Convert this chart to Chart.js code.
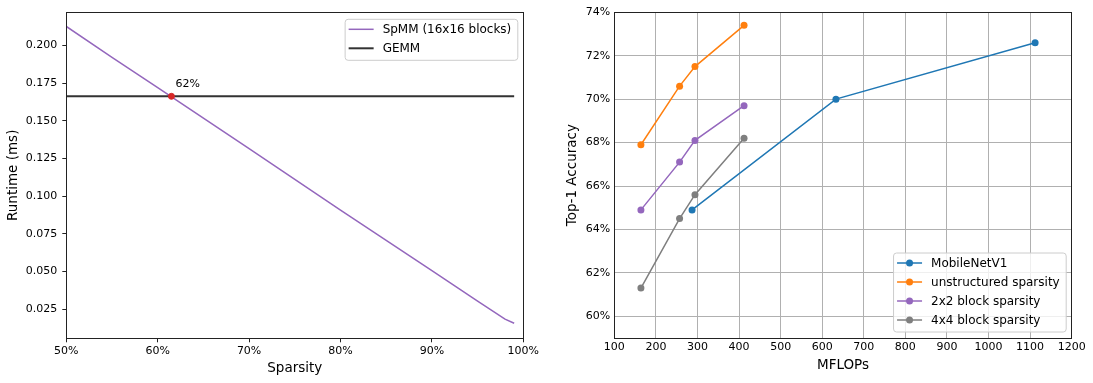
<!DOCTYPE html>
<html>
<head>
<meta charset="utf-8">
<script src="https://cdn.jsdelivr.net/npm/chart.js@4.4.0/dist/chart.umd.min.js"></script>
<style>
  body { margin: 0; background: #fff; }
  #wrap { position: relative; width: 1093px; height: 383px; }
  #wrap canvas { position: absolute; top: 0; }
</style>
</head>
<body>
<div id="wrap">
  <canvas id="runtimeChart" width="546" height="383" style="left:0"></canvas>
  <canvas id="accuracyChart" width="547" height="383" style="left:546px"></canvas>
</div>
<script>
// left panel: runtime vs sparsity
const sparsity = [50, 55, 60, 65, 70, 75, 80, 85, 90, 95, 98, 99]
const spmmRuntime = [0.2125, 0.1920, 0.1720, 0.1518, 0.1316, 0.1112, 0.0907, 0.0707, 0.0507, 0.0305, 0.0185, 0.0158]
const gemmSpan = [50, 99]
const gemmRuntime = 0.1662
const crossoverSparsity = 61.5
const crossoverLabel = '62%'
const runtimeTicks = [0.025, 0.050, 0.075, 0.100, 0.125, 0.150, 0.175, 0.200]

// right panel: accuracy vs MFLOPs
const mobilenetMflops = [287, 633, 1112]
const mobilenetAcc = [64.9, 70.0, 72.6]
const sparseMflops = [164, 257, 294, 412]
const unstructuredAcc = [67.9, 70.6, 71.5, 73.4]
const block2x2Acc = [64.9, 67.1, 68.1, 69.7]
const block4x4Acc = [61.3, 64.5, 65.6, 68.2]
const accuracyTicks = [60, 62, 64, 66, 68, 70, 72, 74]

Chart.defaults.font.family = '"DejaVu Sans", sans-serif'
Chart.defaults.color = '#000'

const toPoints = (xs, ys) => xs.map((x, i) => ({x: x, y: ys[i]}))

// box around the plot area, like matplotlib spines
const framePlugin = {
  id: 'frame',
  afterDatasetsDraw(chart) {
    const {ctx, chartArea: a} = chart
    ctx.save()
    ctx.strokeStyle = '#222'
    ctx.lineWidth = 1
    ctx.strokeRect(Math.round(a.left) + 0.5, Math.round(a.top) + 0.5, Math.round(a.right - a.left), Math.round(a.bottom - a.top))
    ctx.restore()
  }
}

// legend drawn inside the plot area with a rounded box
const boxLegend = {
  id: 'boxLegend',
  afterDraw(chart, args, opts) {
    const {ctx, chartArea: a} = chart
    const items = chart.data.datasets.filter(d => d.inLegend !== false)
    ctx.save()
    ctx.font = '12px "DejaVu Sans"'
    const textW = Math.max(...items.map(d => ctx.measureText(d.label).width))
    const w = 38 + textW + 6
    const h = items.length * 19 + 3
    const x = a.right - 6 - w
    const y = opts.corner === 'top' ? a.top + 6.5 : a.bottom - 6.5 - h
    ctx.beginPath()
    ctx.roundRect(x + 0.5, y + 0.5, w, h, 3)
    ctx.fillStyle = 'rgba(255,255,255,0.8)'
    ctx.fill()
    ctx.strokeStyle = '#cccccc'
    ctx.lineWidth = 1
    ctx.stroke()
    items.forEach((d, i) => {
      const cy = y + 10.5 + i * 19
      ctx.beginPath()
      ctx.moveTo(x + 4, cy)
      ctx.lineTo(x + 29, cy)
      ctx.strokeStyle = d.borderColor
      ctx.lineWidth = d.borderWidth
      ctx.stroke()
      if (d.pointRadius > 0) {
        ctx.beginPath()
        ctx.arc(x + 16.5, cy, d.pointRadius, 0, Math.PI * 2)
        ctx.fillStyle = d.borderColor
        ctx.fill()
      }
      ctx.fillStyle = '#000'
      ctx.textBaseline = 'middle'
      ctx.fillText(d.label, x + 38, cy + 1)
    })
    ctx.restore()
  }
}

// "62%" next to the red crossover dot
const crossoverText = {
  id: 'crossoverText',
  afterDatasetsDraw(chart) {
    const idx = chart.data.datasets.findIndex(d => d.crossover)
    const pt = chart.getDatasetMeta(idx).data[0]
    const ctx = chart.ctx
    ctx.save()
    ctx.font = '11px "DejaVu Sans"'
    ctx.fillStyle = '#000'
    ctx.textBaseline = 'middle'
    ctx.fillText(crossoverLabel, pt.x + 4, pt.y - 12)
    ctx.restore()
  }
}

new Chart(document.getElementById('runtimeChart'), {
  type: 'line',
  data: {
    datasets: [
      {
        label: 'SpMM (16x16 blocks)',
        data: toPoints(sparsity, spmmRuntime),
        borderColor: '#9467bd', borderWidth: 1.5, pointRadius: 0, order: 3
      },
      {
        label: 'GEMM',
        data: gemmSpan.map(s => ({x: s, y: gemmRuntime})),
        borderColor: '#333333', borderWidth: 2, pointRadius: 0, order: 2
      },
      {
        label: 'crossover', type: 'scatter', crossover: true, inLegend: false,
        data: [{x: crossoverSparsity, y: gemmRuntime}],
        pointRadius: 3, backgroundColor: '#d62728', borderColor: '#d62728', order: 1
      }
    ]
  },
  options: {
    responsive: false,
    animation: false,
    layout: { padding: { top: 12.3, right: 22.7, left: 0, bottom: 0 } },
    plugins: {
      legend: { display: false },
      tooltip: { enabled: false },
      boxLegend: { corner: 'top' }
    },
    scales: {
      x: {
        type: 'linear', min: 50, max: 100,
        afterFit: s => { s.height = 44.7 },
        ticks: { stepSize: 10, callback: v => v + '%', padding: 2, maxRotation: 0, autoSkip: false, font: { size: 11 } },
        grid: { drawOnChartArea: false, tickLength: 4, color: '#222' },
        border: { display: false },
        title: { display: true, text: 'Sparsity', font: { size: 13.5 }, padding: { top: 0, bottom: 6.5 } }
      },
      y: {
        min: 0.0058, max: 0.2219,
        afterBuildTicks: ax => { ax.ticks = runtimeTicks.map(v => ({value: v})) },
        afterFit: s => { s.width = 66.3 },
        ticks: { callback: v => v.toFixed(3), padding: 5, font: { size: 11 } },
        grid: { drawOnChartArea: false, tickLength: 4, color: '#222' },
        border: { display: false },
        title: { display: true, text: 'Runtime (ms)', font: { size: 13.5 }, padding: { top: 5, bottom: 0 } }
      }
    }
  },
  plugins: [framePlugin, crossoverText, boxLegend]
})

const accSeries = [
  ['MobileNetV1', mobilenetMflops, mobilenetAcc, '#1f77b4'],
  ['unstructured sparsity', sparseMflops, unstructuredAcc, '#ff7f0e'],
  ['2x2 block sparsity', sparseMflops, block2x2Acc, '#9467bd'],
  ['4x4 block sparsity', sparseMflops, block4x4Acc, '#7f7f7f']
]

new Chart(document.getElementById('accuracyChart'), {
  type: 'line',
  data: {
    datasets: accSeries.map(([label, xs, ys, color], i) => ({
      label: label,
      data: toPoints(xs, ys),
      borderColor: color,
      backgroundColor: color,
      pointBackgroundColor: color,
      pointBorderWidth: 0,
      borderWidth: 1.5,
      pointRadius: 3.5,
      order: accSeries.length - i
    }))
  },
  options: {
    responsive: false,
    animation: false,
    layout: { padding: { top: 12.3, right: 21.3, left: 0, bottom: 0 } },
    plugins: {
      legend: { display: false },
      tooltip: { enabled: false },
      boxLegend: { corner: 'bottom' }
    },
    scales: {
      x: {
        type: 'linear', min: 100, max: 1200,
        afterFit: s => { s.height = 45 },
        ticks: { stepSize: 100, callback: v => String(v), padding: 3, maxRotation: 0, autoSkip: false, font: { size: 11 } },
        grid: { color: '#b0b0b0', drawTicks: false },
        border: { display: false },
        title: { display: true, text: 'MFLOPs', font: { size: 13.5 }, padding: { top: 0, bottom: 9.5 } }
      },
      y: {
        min: 59, max: 74,
        afterBuildTicks: ax => { ax.ticks = accuracyTicks.map(v => ({value: v})) },
        afterFit: s => { s.width = 68.3 },
        ticks: { callback: v => v + '%', padding: 4, font: { size: 11 } },
        grid: { color: '#b0b0b0', drawTicks: false },
        border: { display: false },
        title: { display: true, text: 'Top-1 Accuracy', font: { size: 13.5 }, padding: { top: 18.5, bottom: 0 } }
      }
    }
  },
  plugins: [framePlugin, boxLegend]
})
</script>
</body>
</html>
